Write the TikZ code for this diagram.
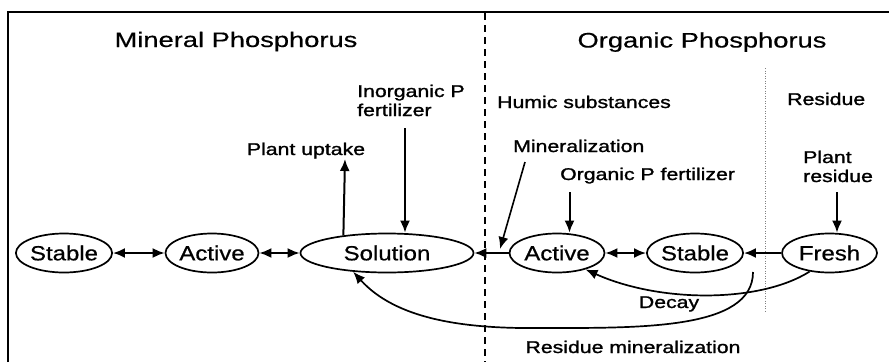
\documentclass[tikz,border=0pt]{standalone}
\usepackage{fontspec}
\usepackage{graphicx}
\setmainfont{Liberation Sans}
\newfontfamily\lblfont[FakeBold=1.2]{Liberation Sans}
\newfontfamily\ndfont[FakeBold=0.6]{Liberation Sans}
\newfontfamily\ttlfont[FakeBold=0.4]{Liberation Sans}
\usetikzlibrary{shapes.geometric,arrows.meta}
\newcommand{\ttltext}[1]{\scalebox{1.3}[1]{\ttlfont\fontsize{21}{25}\selectfont #1}}
\newcommand{\ndtext}[1]{\scalebox{1.17}[1]{\ndfont\fontsize{20.5}{24}\selectfont #1}}
\newcommand{\lbltext}[1]{\scalebox{1.25}[1]{\lblfont\fontsize{17}{19}\selectfont #1}}
\newcommand{\lbltwo}[2]{\scalebox{1.25}[1]{\lblfont\fontsize{17}{19}\selectfont\begin{tabular}[t]{@{}l@{}}#1\\#2\end{tabular}}}
\tikzset{
  ell/.style={draw, ellipse, line width=1.7pt, inner sep=0pt, minimum height=39pt},
  conn/.style={line width=2pt, -{Latex[length=12pt,width=10pt]}},
  biconn/.style={line width=2pt, {Latex[length=12pt,width=10pt]}-{Latex[length=12pt,width=10pt]}},
  curv/.style={line width=1.7pt, -{Latex[length=12pt,width=10pt]}},
  lbl/.style={inner sep=0pt, anchor=base west},
  ttl/.style={inner sep=0pt, anchor=base}
}
\begin{document}
\begin{tikzpicture}[x=1pt,y=-1pt]
\useasboundingbox (0,0) rectangle (889,362);
% frame and dividers
\draw[line width=2.5pt] (8,362) -- (8,12) -- (889,12);
\draw[line width=1.8pt, dash pattern=on 7pt off 5pt] (485,13) -- (485,362);
\draw[gray, line width=0.9pt, dash pattern=on 1pt off 1.5pt] (765,68) -- (765,313);
% titles
\node[ttl] (tmin) at (236,47) {\ttltext{Mineral Phosphorus}};
\node[ttl] (torg) at (702,47.5) {\ttltext{Organic Phosphorus}};
% labels
\node[lbl] (linorg) at (357,97) {\lbltwo{Inorganic P}{fertilizer}};
\node[ttl] (lupt) at (306,155) {\lbltext{Plant uptake}};
\node[lbl] (lhum) at (497,108) {\lbltext{Humic substances}};
\node[lbl] (lres) at (787,105) {\lbltext{Residue}};
\node[lbl] (lmin) at (513,152) {\lbltext{Mineralization}};
\node[lbl] (lpr) at (803,163) {\lbltwo{Plant}{residue}};
\node[lbl] (lopf) at (560,180) {\lbltext{Organic P fertilizer}};
\node[ttl] (ldec) at (669,308) {\lbltext{Decay}};
\node[ttl] (lrm) at (633,353) {\lbltext{Residue mineralization}};
% pools
\node[ell, minimum width=92pt] (stableL) at (64,253) {\ndtext{Stable}};
\node[ell, minimum width=93pt] (activeL) at (212,253) {\ndtext{Active}};
\node[ell, minimum width=173pt] (solution) at (387,253) {\ndtext{Solution}};
\node[ell, minimum width=95pt] (activeR) at (557,253) {\ndtext{Active}};
\node[ell, minimum width=94pt] (stableR) at (695,253) {\ndtext{Stable}};
\node[ell, minimum width=95pt] (fresh) at (829.5,253) {\ndtext{Fresh}};
% free ends
\coordinate (inorgTop) at (405,128);
\coordinate (uptTop) at (345,159);
\coordinate (minTop) at (525,162);
\coordinate (minTip) at (500,249);
\coordinate (opfTop) at (569.5,192);
\coordinate (prTop) at (837,192);
\coordinate (rmStart) at (753,272);
\coordinate (rmMid) at (540,328);
% connectors
\draw[biconn] (stableL.east) -- (activeL.west);
\draw[biconn] (activeL.east) -- (solution.west);
\draw[conn] (activeR.west) -- (solution.east);
\draw[biconn] (activeR.east) -- (stableR.west);
\draw[conn] (fresh.west) -- (stableR.east);
\draw[conn] (inorgTop) -- (inorgTop |- solution.north);
\draw[conn] (solution.158) -- (uptTop);
\draw[conn, line width=1.6pt] (minTop) -- (minTip);
\draw[conn] (opfTop) -- (opfTop |- activeR.north);
\draw[conn] (prTop) -- (prTop |- fresh.north);
\draw[curv] (fresh.-137) .. controls (760,303) and (660,303) .. (activeR.-30);
\draw[curv] (rmStart) .. controls (753,330) and (640,328) .. (rmMid)
  .. controls (460,329) and (395,318) .. (solution.-151);
\end{tikzpicture}
\end{document}
